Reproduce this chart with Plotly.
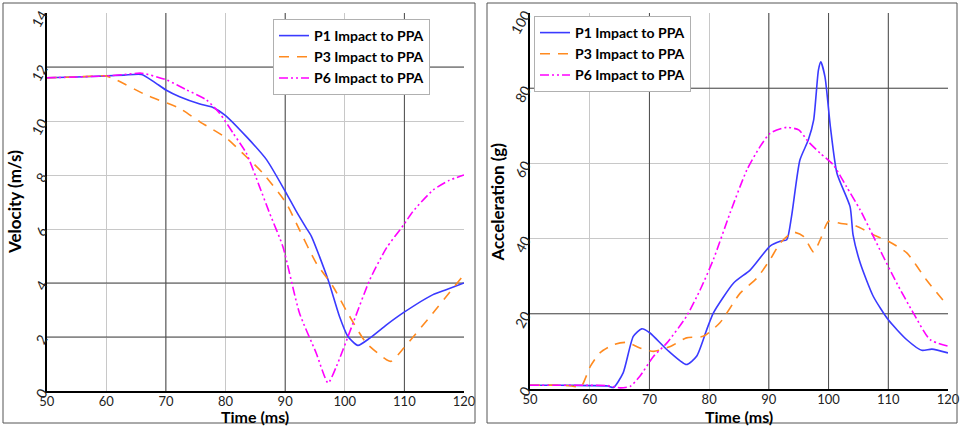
import plotly.graph_objects as go

# ---------------- data ----------------
# Velocity (m/s) vs time (ms)
t_v_p1 = [50, 55, 60, 63, 65.9, 68, 70, 72.3, 75.7, 77.9, 79.9, 83.5, 86.9, 89.9, 91.9, 93.5, 94.4,
          97.2, 99.1, 100.5, 102.2, 104.2, 107, 109.9, 114.8, 117, 120]
v_p1 = [11.6, 11.63, 11.67, 11.7, 11.72, 11.45, 11.15, 10.9, 10.63, 10.5, 10.22, 9.42, 8.56, 7.44, 6.64,
        6.05, 5.73, 4.12, 2.77, 2.03, 1.69, 1.96, 2.45, 2.91, 3.57, 3.75, 4.0]

t_v_p3 = [50, 55, 59.9, 61.4, 66.7, 72.3, 75.7, 80.2, 82.9, 86.3, 90.2, 92.4, 95.2, 98, 100.2, 103.6,
          107, 107.8, 109.9, 114.8, 120]
v_p3 = [11.6, 11.63, 11.67, 11.55, 10.96, 10.47, 9.97, 9.36, 8.8, 8.06, 6.95, 5.97, 4.74, 3.88, 3.0,
        1.78, 1.16, 1.1, 1.59, 2.89, 4.31]

t_v_p6 = [50, 55, 60, 63, 65.9, 70.1, 73.5, 76.8, 79, 81.3, 83.5, 85.7, 87.4, 89.6, 92.4, 95.2, 97.2,
          98.6, 101.4, 104.2, 107, 109.9, 111.4, 114.8, 117.5, 120]
v_p6 = [11.6, 11.63, 11.67, 11.72, 11.77, 11.52, 11.15, 10.78, 10.29, 9.54, 8.8, 7.57, 6.58, 5.36, 2.89,
        1.41, 0.3, 0.91, 2.52, 4.12, 5.3, 6.16, 6.64, 7.44, 7.8, 8.0]

# Acceleration (g) vs time (ms)
t_a_p1 = [50, 55, 60, 63, 64, 65.6, 67.3, 68.7, 70.1, 72.9, 76.2, 77.9, 79.6, 80.7, 84.1, 86.9, 90.2,
          91.9, 93, 93.8, 95.2, 96.6, 97.5, 98.3, 98.7, 99.4, 100.3, 101.4, 103.6, 104.1, 105.3, 107.5,
          110, 113.1, 115.6, 117.3, 120]
a_p1 = [1.0, 1.0, 0.9, 0.8, 0.4, 4.3, 14, 16, 14.9, 10.5, 6.5, 8.7, 15.8, 20.2, 28.2, 31.7, 38, 39.3,
        39.7, 45.9, 60.9, 66.2, 71.5, 84.8, 87, 83, 69.8, 57.4, 48.5, 41.0, 33.5, 24.6, 18.4, 13.1, 10.3,
        10.6, 9.6]

t_a_p3 = [50, 55, 57, 58.5, 60.1, 61.7, 64, 66.2, 68.4, 70.7, 73.5, 76.2, 79, 81.8, 85.2, 88, 90.2,
          91.9, 94.1, 95.8, 97.5, 98.6, 100, 101.9, 104.7, 107.5, 110, 113.1, 116.4, 120]
a_p3 = [1.0, 1.0, 0.8, 0.5, 6.0, 9.6, 11.8, 12.4, 10.9, 10.0, 11.3, 13.6, 14.0, 17.6, 25.5, 29.5, 34.4,
        38.8, 41.7, 40.6, 36.4, 39.7, 44.6, 44.1, 43.3, 41.0, 39.3, 36.2, 29.0, 22.0]

t_a_p6 = [50, 55, 60, 63, 65.1, 66.8, 68.4, 70.7, 72.9, 76.2, 78.5, 80.7, 83.5, 86.3, 88.5, 90.2, 93,
          95, 96.6, 98.6, 100.8, 103, 105.3, 108.6, 111.4, 114.2, 117, 120]
a_p6 = [1.0, 1.0, 1.0, 0.9, 0.3, 0.7, 3.4, 8.7, 12.2, 19.3, 26.4, 34.4, 46.8, 58.2, 64.4, 68.0, 69.6,
        68.9, 65.8, 62.7, 59.6, 53.8, 47.6, 37.0, 28.2, 20.2, 13.1, 11.4]

series_names = ["P1 Impact to PPA", "P3 Impact to PPA", "P6 Impact to PPA"]
x_ticks = [50, 60, 70, 80, 90, 100, 110, 120]
vel_ticks = [0, 2, 4, 6, 8, 10, 12, 14]
acc_ticks = [0, 20, 40, 60, 80, 100]

# ---------------- styling ----------------
W, H = 960, 426
BLUE = "#3a3aff"
ORANGE = "#ff8a1f"
MAGENTA = "#ff00ff"
styles = [
    dict(color=BLUE, width=1.6, dash="solid"),
    dict(color=ORANGE, width=1.6, dash="10px,8px"),
    dict(color=MAGENTA, width=1.6, dash="9px,3px,2px,3px,2px,3px"),
]
FONT = "Lato, 'Open Sans', sans-serif"


def fx(p):
    return p / W


def fy(p):
    return 1 - p / H


fig = go.Figure()
vel = [(t_v_p1, v_p1), (t_v_p3, v_p3), (t_v_p6, v_p6)]
acc = [(t_a_p1, a_p1), (t_a_p3, a_p3), (t_a_p6, a_p6)]
for i, (t, v) in enumerate(vel):
    fig.add_trace(go.Scatter(x=t, y=v, mode="lines", name=series_names[i],
                             line=dict(shape="spline", smoothing=0.6, **styles[i]),
                             xaxis="x", yaxis="y", legend="legend"))
for i, (t, a) in enumerate(acc):
    fig.add_trace(go.Scatter(x=t, y=a, mode="lines", name=series_names[i],
                             line=dict(shape="spline", smoothing=0.6, **styles[i]),
                             xaxis="x2", yaxis="y2", legend="legend2"))

GRID = "#c8c8c8"
DARK = "#4a4a4a"
common_x = dict(range=[50, 120], tickvals=x_ticks, showgrid=True, gridcolor=GRID, gridwidth=1,
                zeroline=False, showline=True, linecolor="black", linewidth=2, ticks="",
                automargin=False, ticklabeloverflow="allow", ticklabelstandoff=-3,
                tickfont=dict(family=FONT, size=13, color="#222"))
common_y = dict(showgrid=True, gridcolor=GRID, gridwidth=1, zeroline=False, showline=True,
                linecolor="black", linewidth=2, ticks="", tickangle=-60, automargin=False,
                ticklabeloverflow="allow",
                tickfont=dict(family=FONT, size=14, color="#222"))

fig.update_layout(
    width=W, height=H, margin=dict(l=0, r=0, t=0, b=0, autoexpand=False),
    paper_bgcolor="white", plot_bgcolor="white",
    xaxis=dict(domain=[fx(46.7), fx(464)], anchor="y", **common_x),
    yaxis=dict(domain=[fy(391), fy(13)], anchor="x", range=[0, 14], tickvals=vel_ticks, **common_y),
    xaxis2=dict(domain=[fx(530), fx(948)], anchor="y2", **common_x),
    yaxis2=dict(domain=[fy(389), fy(13)], anchor="x2", range=[0, 100], tickvals=acc_ticks, **common_y),
    legend=dict(x=fx(273), y=fy(19), xanchor="left", yanchor="top", bgcolor="white",
                bordercolor="#b0b0b0", borderwidth=1, tracegroupgap=0,
                font=dict(family=FONT, size=14, color="black", weight="bold")),
    legend2=dict(x=fx(534), y=fy(16), xanchor="left", yanchor="top", bgcolor="white",
                 bordercolor="#b0b0b0", borderwidth=1, tracegroupgap=0,
                 font=dict(family=FONT, size=14, color="black", weight="bold")),
    showlegend=True,
)

shapes = []
# darker grid lines
for xv in [70, 90, 110]:
    shapes.append(dict(type="line", xref="x", yref="y", x0=xv, x1=xv, y0=0, y1=14,
                       line=dict(color=DARK, width=1), layer="between"))
for yv in [12, 4, 2]:
    shapes.append(dict(type="line", xref="x", yref="y", x0=50, x1=120, y0=yv, y1=yv,
                       line=dict(color=DARK, width=1), layer="between"))
for xv in [70, 90, 100, 110]:
    shapes.append(dict(type="line", xref="x2", yref="y2", x0=xv, x1=xv, y0=0, y1=100,
                       line=dict(color=DARK, width=1), layer="between"))
for yv in [80, 20]:
    shapes.append(dict(type="line", xref="x2", yref="y2", x0=50, x1=120, y0=yv, y1=yv,
                       line=dict(color=DARK, width=1), layer="between"))
# outer panel frames
shapes.append(dict(type="rect", xref="paper", yref="paper", x0=fx(3), x1=fx(475), y0=fy(423), y1=fy(3),
                   line=dict(color="#555", width=1)))
shapes.append(dict(type="rect", xref="paper", yref="paper", x0=fx(487), x1=fx(957), y0=fy(423), y1=fy(3),
                   line=dict(color="#555", width=1)))
fig.update_layout(shapes=shapes)

tfont = dict(family=FONT, size=16, color="black", weight="bold")
fig.add_annotation(text="Velocity (m/s)", x=fx(15), y=fy(202), xref="paper", yref="paper",
                   xanchor="center", yanchor="middle",
                   textangle=-90, showarrow=False, font=dict(tfont, size=17))
fig.add_annotation(text="Acceleration (g)", x=fx(497.5), y=fy(202), xref="paper", yref="paper",
                   xanchor="center", yanchor="middle",
                   textangle=-90, showarrow=False, font=dict(tfont, size=17))
fig.add_annotation(text="Time (ms)", x=fx(255), y=fy(416), xref="paper", yref="paper",
                   xanchor="center", yanchor="middle", showarrow=False, font=tfont)
fig.add_annotation(text="Time (ms)", x=fx(739), y=fy(416), xref="paper", yref="paper",
                   xanchor="center", yanchor="middle", showarrow=False, font=tfont)

fig.write_html("out.html")
